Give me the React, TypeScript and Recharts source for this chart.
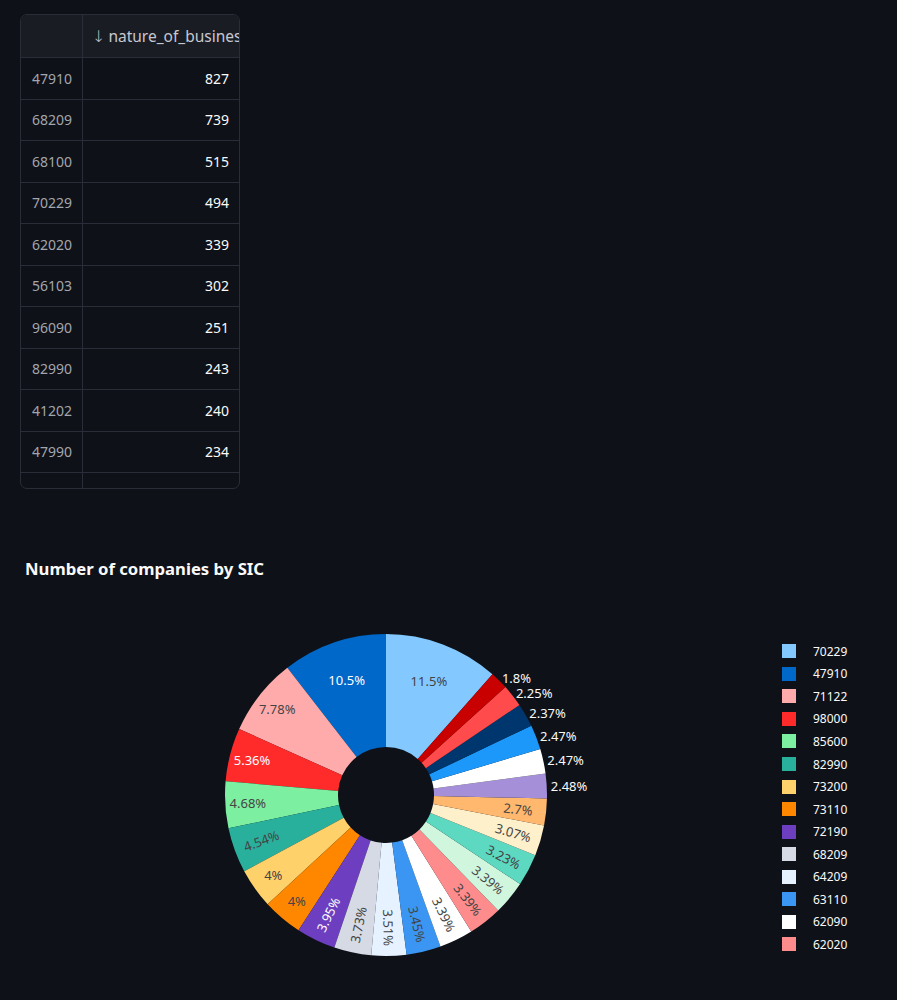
import { PieChart, Pie, Cell, Legend } from 'recharts';

// table at the top (index = SIC code, value = count)
const TABLE_INDEX = ['47910', '68209', '68100', '70229', '62020', '56103', '96090', '82990', '41202', '47990'];
const TABLE_COUNTS = [827, 739, 515, 494, 339, 302, 251, 243, 240, 234];

// pie slices, largest first (share in %)
const SIC_CODES = [
    '70229', '47910', '71122', '98000', '85600', '82990', '73200', '73110',
    '72190', '68209', '64209', '63110', '62090', '62020', '68100', '56103',
    '96090', '41202', '47990', '43390', '86900', '82110', '74909', '70100',
];
const SHARE = [
    11.5, 10.5, 7.78, 5.36, 4.68, 4.54, 4, 4,
    3.95, 3.73, 3.51, 3.45, 3.39, 3.39, 3.39, 3.23,
    3.07, 2.7, 2.48, 2.47, 2.47, 2.37, 2.25, 1.8,
];
const COLORS = [
    '#83c9ff', '#0068c9', '#ffabab', '#ff2b2b', '#7defa1', '#29b09d', '#ffd16a', '#ff8700',
    '#6d3fc0', '#d5dae5', '#e6f2ff', '#3a96f2', '#ffffff', '#ff8c8c', '#d0f7de', '#5dd9c1',
    '#fff0cc', '#ffb86e', '#a58fd8', '#ffffff', '#1c98fa', '#00366e', '#ff4b4b', '#c90000',
];

const BG = '#0e1117';
const GRID = '#2a2d37';
const FONT = '"Noto Sans", sans-serif';
const RAD = Math.PI / 180;
const LEGEND_ROW = 22.55;
const LEGEND_HEIGHT = 316;

const pieData = SIC_CODES.map((code, i) => ({ name: code, value: SHARE[i] }));
const total = SHARE.reduce((s, v) => s + v, 0);
// first slice ends at 12 o'clock, the rest run counterclockwise from there
const startAngle = 90 - (360 * SHARE[0]) / total;

const isDark = (hex: string) => {
    const r = parseInt(hex.slice(1, 3), 16);
    const g = parseInt(hex.slice(3, 5), 16);
    const b = parseInt(hex.slice(5, 7), 16);
    return (r * 299 + g * 587 + b * 114) / 1000 < 128;
};

const renderLabel = (props: any) => {
    const { cx, cy, midAngle, innerRadius, outerRadius, percent, index } = props;
    const pct = percent * 100;
    const text = `${parseFloat(pct.toPrecision(3))}%`;
    const cos = Math.cos(midAngle * RAD);
    const sin = Math.sin(midAngle * RAD);

    // too thin for inside text -> put it just outside the ring
    if (pct < 2.6) {
        const r = outerRadius + 4;
        return (
            <text
                x={cx + r * cos}
                y={cy - r * sin}
                fill="#fafafa"
                fontSize={13}
                fontFamily={FONT}
                textAnchor={cos >= 0 ? 'start' : 'end'}
                dominantBaseline="central"
            >
                {text}
            </text>
        );
    }

    const horizontal = pct >= 4.6 || text.length <= 2;
    const frac = pct > 10 ? 0.65 : horizontal ? 0.8 : 0.75;
    const r = innerRadius + (outerRadius - innerRadius) * frac;
    const x = cx + r * cos;
    const y = cy - r * sin;
    const rot = horizontal ? 0 : cos >= 0 ? -midAngle : 180 - midAngle;
    return (
        <text
            x={x}
            y={y}
            fill={isDark(COLORS[index]) ? '#ffffff' : '#444444'}
            fontSize={13}
            fontFamily={FONT}
            textAnchor="middle"
            dominantBaseline="central"
            transform={`rotate(${rot} ${x} ${y})`}
        >
            {text}
        </text>
    );
};

// scrollable legend: only the rows that fit are visible
const LegendList = () => (
    <div style={{ height: LEGEND_HEIGHT, overflow: 'hidden', fontFamily: FONT, fontSize: 12, color: '#fafafa' }}>
        {SIC_CODES.slice(0, Math.floor(LEGEND_HEIGHT / LEGEND_ROW)).map((code, i) => (
            <div key={code + i} style={{ display: 'flex', alignItems: 'center', height: LEGEND_ROW }}>
                <span style={{ display: 'inline-block', width: 14, height: 14, background: COLORS[i], marginRight: 17 }} />
                <span>{code}</span>
            </div>
        ))}
    </div>
);

const cellBase = { boxSizing: 'border-box' as const, display: 'flex', alignItems: 'center' };

export default function App() {
    return (
        <div style={{ position: 'absolute', left: 0, top: 0, width: 897, height: 1000, background: BG, overflow: 'hidden' }}>
            {/* dataframe */}
            <div
                style={{
                    position: 'absolute', left: 20, top: 14, width: 220, height: 475,
                    border: `1px solid ${GRID}`, borderRadius: 7, overflow: 'hidden',
                    boxSizing: 'border-box', fontFamily: FONT, fontSize: 14,
                }}
            >
                <div style={{ display: 'flex', height: 43, background: '#1a1c24', borderBottom: `1px solid ${GRID}`, boxSizing: 'border-box' }}>
                    <div style={{ ...cellBase, width: 62, flexShrink: 0, borderRight: `1px solid ${GRID}` }} />
                    <div style={{ ...cellBase, flex: 1, minWidth: 0, paddingLeft: 9, color: '#c6c8cf', whiteSpace: 'nowrap', overflow: 'hidden', fontSize: 15.5 }}>
                        <span style={{ fontSize: 16, marginRight: 3, fontFamily: '"DejaVu Sans", sans-serif', fontWeight: 300 }}>↓</span>nature_of_business
                    </div>
                </div>
                {TABLE_INDEX.map((idx, i) => (
                    <div key={idx} style={{ display: 'flex', height: 41.5, borderBottom: `1px solid ${GRID}`, boxSizing: 'border-box' }}>
                        <div style={{ ...cellBase, width: 62, paddingLeft: 11, color: '#a3a6ae', borderRight: `1px solid ${GRID}` }}>{idx}</div>
                        <div style={{ ...cellBase, flex: 1, justifyContent: 'flex-end', paddingRight: 10, color: '#fafafa' }}>{TABLE_COUNTS[i]}</div>
                    </div>
                ))}
                <div style={{ display: 'flex', height: 30 }}>
                    <div style={{ width: 62, borderRight: `1px solid ${GRID}`, boxSizing: 'border-box' }} />
                </div>
            </div>

            <div
                style={{
                    position: 'absolute', left: 25, top: 560, fontFamily: FONT, fontWeight: 700,
                    fontSize: 16.7, lineHeight: '17px', color: '#fafafa',
                }}
            >
                Number of companies by SIC
            </div>

            <div style={{ position: 'absolute', left: 0, top: 600 }}>
                <PieChart width={897} height={400} margin={{ top: 0, right: 0, bottom: 0, left: 0 }}>
                    <Pie
                        data={pieData}
                        dataKey="value"
                        nameKey="name"
                        cx={386}
                        cy={195}
                        innerRadius={48}
                        outerRadius={161}
                        startAngle={startAngle}
                        endAngle={startAngle + 360}
                        stroke="none"
                        label={renderLabel}
                        labelLine={false}
                        isAnimationActive={false}
                    >
                        {pieData.map((_, i) => (
                            <Cell key={`cell-${i}`} fill={COLORS[i]} stroke="none" />
                        ))}
                    </Pie>
                    <Legend
                        content={() => <LegendList />}
                        wrapperStyle={{ position: 'absolute', left: 782, top: 40, width: 110, height: LEGEND_HEIGHT, right: 'auto', bottom: 'auto' }}
                    />
                </PieChart>
            </div>
        </div>
    );
}
